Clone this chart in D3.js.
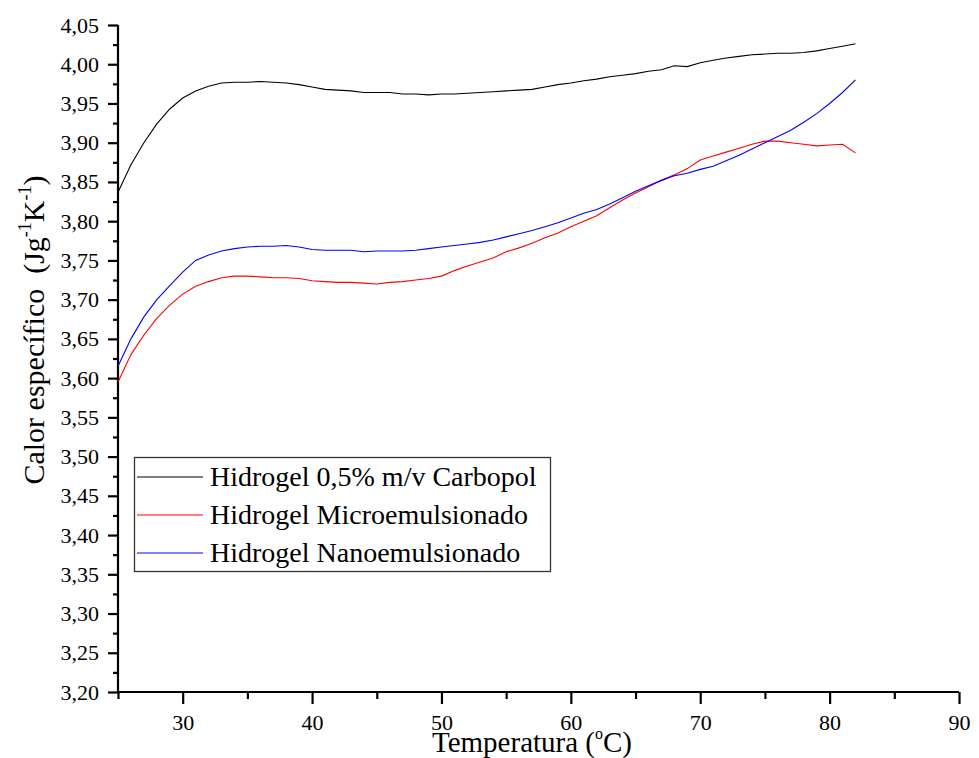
<!DOCTYPE html>
<html>
<head>
<meta charset="utf-8">
<script src="https://cdn.jsdelivr.net/npm/d3@7"></script>
<style>
    body { margin: 0; background: #fff; }
    svg text { font-family: "Liberation Serif", "Times New Roman", serif; fill: #000; }
</style>
</head>
<body>
<div id="chart"></div>
<script>
// Data
const temperatures = d3.range(25, 83); // 25 .. 82 °C

const carbopol = [
    3.837, 3.872, 3.900, 3.924, 3.943, 3.957, 3.966, 3.972, 3.976, 3.977,
    3.977, 3.978, 3.977, 3.976, 3.974, 3.971, 3.968, 3.967, 3.966, 3.964,
    3.964, 3.964, 3.962, 3.962, 3.961, 3.962, 3.962, 3.963, 3.964, 3.965,
    3.966, 3.967, 3.968, 3.971, 3.974, 3.976, 3.979, 3.981, 3.984, 3.986,
    3.988, 3.991, 3.993, 3.998, 3.997, 4.002, 4.005, 4.008, 4.010, 4.012,
    4.013, 4.014, 4.014, 4.015, 4.017, 4.020, 4.023, 4.026
];

const micro = [
    3.595, 3.630, 3.655, 3.676, 3.693, 3.707, 3.717, 3.723, 3.728, 3.730,
    3.730, 3.729, 3.728, 3.728, 3.727, 3.724, 3.723, 3.722, 3.722, 3.721,
    3.720, 3.722, 3.723, 3.725, 3.727, 3.730, 3.737, 3.743, 3.748, 3.753,
    3.761, 3.766, 3.772, 3.779, 3.785, 3.793, 3.800, 3.807, 3.817, 3.827,
    3.836, 3.844, 3.852, 3.859, 3.867, 3.878, 3.883, 3.888, 3.893, 3.898,
    3.902, 3.902, 3.900, 3.898, 3.896, 3.897, 3.898, 3.887
];

const nano = [
    3.615, 3.650, 3.678, 3.700, 3.718, 3.735, 3.750, 3.757, 3.762, 3.765,
    3.767, 3.768, 3.768, 3.769, 3.767, 3.764, 3.763, 3.763, 3.763, 3.761,
    3.762, 3.762, 3.762, 3.763, 3.765, 3.767, 3.769, 3.771, 3.773, 3.776,
    3.780, 3.784, 3.788, 3.793, 3.798, 3.804, 3.810, 3.815, 3.822, 3.830,
    3.838, 3.845, 3.852, 3.858, 3.861, 3.866, 3.870, 3.877, 3.884, 3.892,
    3.900, 3.908, 3.916, 3.926, 3.937, 3.950, 3.964, 3.980
];

const seriesNames = [
    'Hidrogel 0,5% m/v Carbopol',
    'Hidrogel Microemulsionado',
    'Hidrogel Nanoemulsionado'
];
const seriesColors = ['#000000', '#ff0000', '#0000ff'];
const seriesValues = [carbopol, micro, nano];

const xMajorTicks = [30, 40, 50, 60, 70, 80, 90];
const xMinorTicks = [25, 35, 45, 55, 65, 75, 85];
const yMajorTicks = d3.range(0, 18).map(i => +(3.20 + i * 0.05).toFixed(2));
const yMinorTicks = d3.range(0, 17).map(i => +(3.225 + i * 0.05).toFixed(3));

// Layout
const W = 979, H = 758;
const margin = { top: 25, right: 20, bottom: 66, left: 118 };
const FONT = '"Liberation Serif", "Times New Roman", serif';

const svg = d3.select('#chart').append('svg')
    .attr('width', W)
    .attr('height', H);

const x = d3.scaleLinear().domain([25, 90]).range([margin.left, W - margin.right]);
const y = d3.scaleLinear().domain([3.20, 4.05]).range([H - margin.bottom, margin.top]);

const commaFmt = v => d3.format('.2f')(v).replace('.', ',');

// X axis
const xAxis = svg.append('g')
    .attr('transform', `translate(0,${H - margin.bottom})`)
    .call(d3.axisBottom(x).tickValues(xMajorTicks).tickSize(12).tickPadding(10).tickFormat(d3.format('d')))
    .attr('font-family', FONT)
    .attr('font-size', 22);
svg.append('g')
    .attr('transform', `translate(0,${H - margin.bottom})`)
    .call(d3.axisBottom(x).tickValues(xMinorTicks).tickSize(7).tickFormat(''))
    .call(g => g.select('.domain').remove());

// Y axis
const yAxis = svg.append('g')
    .attr('transform', `translate(${margin.left},0)`)
    .call(d3.axisLeft(y).tickValues(yMajorTicks).tickSize(10).tickPadding(9).tickFormat(commaFmt))
    .attr('font-family', FONT)
    .attr('font-size', 22);
svg.append('g')
    .attr('transform', `translate(${margin.left},0)`)
    .call(d3.axisLeft(y).tickValues(yMinorTicks).tickSize(5).tickFormat(''))
    .call(g => g.select('.domain').remove());

svg.selectAll('.domain').attr('stroke', '#000').attr('stroke-width', 2.2);
svg.selectAll('.tick line').attr('stroke', '#000').attr('stroke-width', 2.2);
// flatten the outer ticks of the domain paths
xAxis.select('.domain').attr('d', `M${x(25)},0H${x(90)}`);
yAxis.select('.domain').attr('d', `M0,${y(3.20)}V${y(4.05)}`);

// Lines
const line = d3.line()
    .x((d, i) => x(temperatures[i]))
    .y(d => y(d));

svg.append('g')
    .selectAll('path')
    .data(seriesValues)
    .join('path')
    .attr('fill', 'none')
    .attr('stroke', (d, i) => seriesColors[i])
    .attr('stroke-width', 1.1)
    .attr('d', line);

// Axis titles
const xTitle = svg.append('text')
    .attr('x', 532)
    .attr('y', 752)
    .attr('text-anchor', 'middle')
    .style('font-size', '29px');
xTitle.append('tspan').text('Temperatura (');
xTitle.append('tspan').attr('dy', -13).style('font-size', '16px').text('o');
xTitle.append('tspan').attr('dy', 13).text('C)');

const yTitle = svg.append('text')
    .attr('transform', 'translate(44,330) rotate(-90)')
    .attr('text-anchor', 'middle')
    .style('font-size', '30px');
yTitle.append('tspan').text('Calor específico\u00a0\u00a0(Jg');
yTitle.append('tspan').attr('dy', -13).style('font-size', '18px').text('-1');
yTitle.append('tspan').attr('dy', 13).text('K');
yTitle.append('tspan').attr('dy', -13).style('font-size', '18px').text('-1');
yTitle.append('tspan').attr('dy', 13).text(')');

// Legend
const legend = svg.append('g');
legend.append('rect')
    .attr('x', 134.5)
    .attr('y', 457.5)
    .attr('width', 416)
    .attr('height', 114)
    .attr('fill', '#fff')
    .attr('stroke', '#333')
    .attr('stroke-width', 1.3);

const rows = legend.selectAll('g.row')
    .data(seriesNames)
    .join('g')
    .attr('class', 'row')
    .attr('transform', (d, i) => `translate(0,${477 + i * 38})`);
rows.append('line')
    .attr('x1', 137).attr('x2', 203)
    .attr('y1', 0).attr('y2', 0)
    .attr('stroke', (d, i) => seriesColors[i])
    .attr('stroke-width', 1.1);
rows.append('text')
    .attr('x', 210)
    .attr('y', 9)
    .style('font-size', '28px')
    .text(d => d);
</script>
</body>
</html>
